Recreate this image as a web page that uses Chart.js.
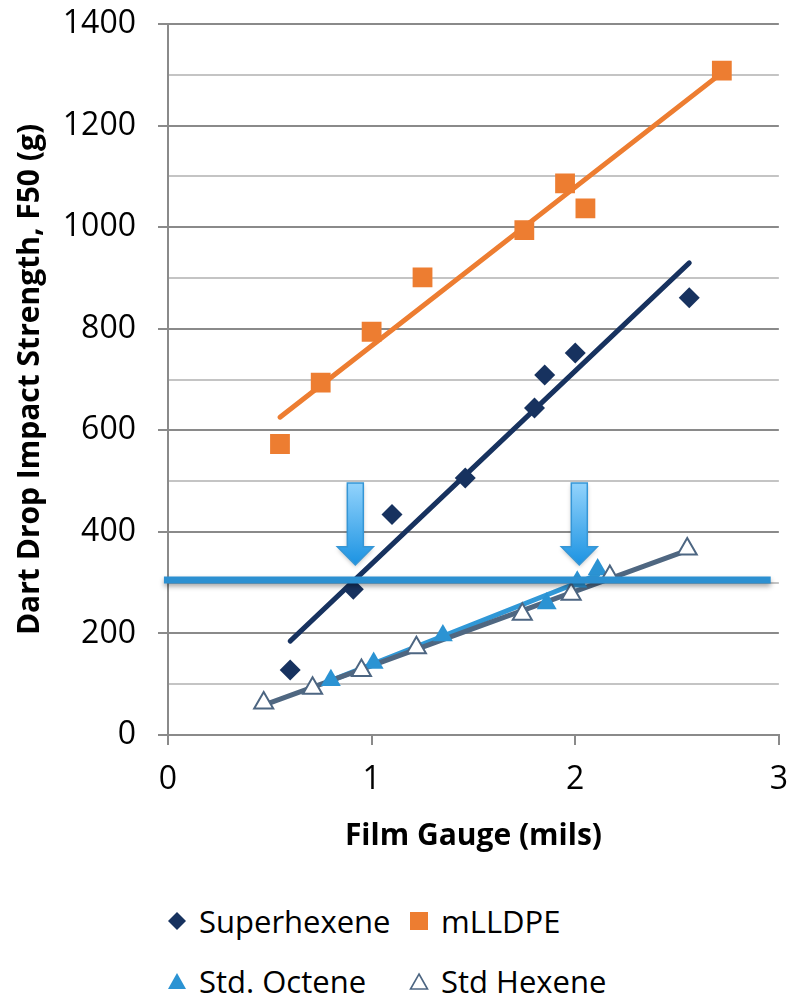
<!DOCTYPE html>
<html>
<head>
<meta charset="utf-8">
<title>Dart Drop Impact Strength vs Film Gauge</title>
<script src="https://cdn.jsdelivr.net/npm/chart.js@4.4.1/dist/chart.umd.min.js"></script>
<style>
  html, body { margin: 0; padding: 0; background: #fff; }
  #wrap { position: relative; width: 788px; height: 997px; font-family: 'Open Sans', sans-serif; }
  #chart { position: absolute; left: 0; top: 0; }
  .legend-item { position: absolute; height: 40px; display: flex; align-items: center; font-size: 31px; color: #000; white-space: nowrap; }
  .legend-item svg { margin-right: 12px; }
</style>
</head>
<body>
<div id="wrap">
  <canvas id="chart" width="788" height="870"></canvas>
  <div class="legend-item" style="left:167px; top:901px;">
    <svg width="20" height="20" viewBox="0 0 20 20"><polygon points="10,1 19,10 10,19 1,10" fill="#17325f"/></svg>Superhexene
  </div>
  <div class="legend-item" style="left:409px; top:901px;">
    <svg width="20" height="20" viewBox="0 0 20 20"><rect x="1" y="1" width="18" height="18" fill="#ed7d31"/></svg>mLLDPE
  </div>
  <div class="legend-item" style="left:167px; top:961px;">
    <svg width="20" height="20" viewBox="0 0 20 20"><polygon points="10,2 19,18 1,18" fill="#2b93d3"/></svg>Std. Octene
  </div>
  <div class="legend-item" style="left:409px; top:961px;">
    <svg width="20" height="20" viewBox="0 0 20 20"><polygon points="10,3 18.5,18 1.5,18" fill="#fff" stroke="#4d6682" stroke-width="1.6"/></svg>Std Hexene
  </div>
</div>
<script>
(function() {
  // values: film gauge (mils) and F50 (g)
  const superhexeneX = [0.60, 0.91, 1.10, 1.46, 1.80, 1.85, 2.00, 2.56];
  const superhexeneY = [128, 287, 434, 506, 644, 709, 752, 861];

  const mlldpeX = [0.55, 0.75, 1.00, 1.25, 1.75, 1.95, 2.05, 2.72];
  const mlldpeY = [573, 694, 794, 901, 994, 1086, 1037, 1308];

  const octeneX = [0.80, 1.01, 1.35, 1.86, 2.01, 2.11];
  const octeneY = [108, 142, 196, 259, 302, 326];

  const hexeneX = [0.47, 0.71, 0.95, 1.22, 1.74, 1.98, 2.17, 2.55];
  const hexeneY = [63, 92, 127, 172, 238, 277, 312, 366];

  const xTicks = [0, 1, 2, 3];
  const yLabels = [0, 200, 400, 600, 800, 1000, 1200, 1400];

  // annotations drawn on top: target level line and two arrows
  const targetLevel = 305;
  const targetSpan = [-0.02, 2.96];
  const arrowX = [0.92, 2.02];
  const arrowTop = 496;
  const arrowTip = 335;

  const NAVY = '#17325f';
  const ORANGE = '#ed7d31';
  const BLUE = '#2b93d3';
  const SLATE = '#4d6682';

  function points(xs, ys) {
    return xs.map((x, i) => ({ x, y: ys[i] }));
  }

  // least-squares trend line across the data range, like the spreadsheet trendline
  function trend(xs, ys) {
    const n = xs.length;
    const mx = xs.reduce((a, b) => a + b, 0) / n;
    const my = ys.reduce((a, b) => a + b, 0) / n;
    let sxy = 0, sxx = 0;
    xs.forEach((x, i) => { sxy += (x - mx) * (ys[i] - my); sxx += (x - mx) * (x - mx); });
    const slope = sxy / sxx;
    const icpt = my - slope * mx;
    const x0 = Math.min(...xs), x1 = Math.max(...xs);
    return [{ x: x0, y: icpt + slope * x0 }, { x: x1, y: icpt + slope * x1 }];
  }

  function trendSet(xs, ys, color, order) {
    return {
      type: 'line',
      data: trend(xs, ys),
      borderColor: color,
      borderWidth: 5,
      borderCapStyle: 'round',
      pointRadius: 0,
      fill: false,
      order
    };
  }

  const annotations = {
    id: 'annotations',
    afterDatasetsDraw(chart) {
      const ctx = chart.ctx;
      const xs = chart.scales.x;
      const ys = chart.scales.y;

      arrowX.forEach((v) => {
        const cx = xs.getPixelForValue(v);
        const top = ys.getPixelForValue(arrowTop);
        const tip = ys.getPixelForValue(arrowTip);
        const headStart = tip - 18;
        const grad = ctx.createLinearGradient(0, top, 0, tip);
        grad.addColorStop(0, '#92d3fc');
        grad.addColorStop(1, '#1c93e2');
        ctx.save();
        ctx.shadowColor = 'rgba(0,0,0,0.25)';
        ctx.shadowBlur = 4;
        ctx.shadowOffsetY = 2;
        ctx.beginPath();
        ctx.moveTo(cx - 8, top);
        ctx.lineTo(cx + 8, top);
        ctx.lineTo(cx + 8, headStart);
        ctx.lineTo(cx + 18, headStart);
        ctx.lineTo(cx, tip);
        ctx.lineTo(cx - 18, headStart);
        ctx.lineTo(cx - 8, headStart);
        ctx.closePath();
        ctx.fillStyle = grad;
        ctx.fill();
        ctx.shadowColor = 'transparent';
        ctx.strokeStyle = '#3596d6';
        ctx.lineWidth = 1.5;
        ctx.stroke();
        ctx.restore();
      });

      const y = ys.getPixelForValue(targetLevel);
      ctx.save();
      ctx.shadowColor = 'rgba(0,0,0,0.35)';
      ctx.shadowBlur = 5;
      ctx.shadowOffsetY = 3;
      ctx.beginPath();
      ctx.moveTo(xs.getPixelForValue(targetSpan[0]), y);
      ctx.lineTo(xs.getPixelForValue(targetSpan[1]), y);
      ctx.strokeStyle = '#2c90d1';
      ctx.lineWidth = 7;
      ctx.stroke();
      ctx.restore();
    }
  };

  Chart.defaults.font.family = "'Open Sans', sans-serif";
  Chart.defaults.color = '#000';

  new Chart(document.getElementById('chart'), {
    type: 'scatter',
    data: {
      datasets: [
        {
          label: 'Superhexene',
          data: points(superhexeneX, superhexeneY),
          pointStyle: 'rectRot',
          pointRadius: 10.5,
          backgroundColor: NAVY,
          borderColor: NAVY,
          borderWidth: 0,
          order: 3
        },
        {
          label: 'mLLDPE',
          data: points(mlldpeX, mlldpeY),
          pointStyle: 'rect',
          pointRadius: 14,
          backgroundColor: ORANGE,
          borderColor: ORANGE,
          borderWidth: 0,
          order: 2
        },
        {
          label: 'Std. Octene',
          data: points(octeneX, octeneY),
          pointStyle: 'triangle',
          pointRadius: 11.5,
          backgroundColor: BLUE,
          borderColor: BLUE,
          borderWidth: 0,
          order: 1
        },
        {
          label: 'Std Hexene',
          data: points(hexeneX, hexeneY),
          pointStyle: 'triangle',
          pointRadius: 11,
          backgroundColor: '#fff',
          borderColor: SLATE,
          borderWidth: 2,
          order: 0
        },
        trendSet(superhexeneX, superhexeneY, NAVY, 13),
        trendSet(mlldpeX, mlldpeY, ORANGE, 12),
        trendSet(octeneX, octeneY, '#3098d7', 11),
        trendSet(hexeneX, hexeneY, '#4f6781', 10)
      ]
    },
    options: {
      responsive: false,
      animation: false,
      layout: { autoPadding: false, padding: { top: 24, right: 9, left: 0, bottom: 0 } },
      plugins: {
        legend: { display: false },
        tooltip: { enabled: false }
      },
      scales: {
        x: {
          type: 'linear',
          min: 0,
          max: 3,
          afterBuildTicks: (s) => { s.ticks = xTicks.map((v) => ({ value: v })); },
          afterFit: (s) => { s.height = 135; },
          ticks: { font: { size: 32, lineHeight: 2.2 }, padding: 0, color: '#000' },
          grid: { drawOnChartArea: false, tickLength: 10, color: '#8a8a8a', lineWidth: 2 },
          border: { color: '#8a8a8a', width: 2 },
          title: {
            display: true,
            text: 'Film Gauge (mils)',
            font: { size: 30, weight: 'bold' },
            color: '#000',
            padding: { top: 0, bottom: 16 }
          }
        },
        y: {
          min: 0,
          max: 1400,
          afterFit: (s) => { s.width = 168; s.paddingTop = 0; s.paddingBottom = 0; },
          ticks: {
            stepSize: 100,
            autoSkip: false,
            font: { size: 32 },
            padding: 22,
            color: '#000',
            callback: (v) => (yLabels.includes(v) ? v : '')
          },
          grid: {
            tickLength: 10,
            lineWidth: 2,
            color: (c) => (c.tick && c.tick.value % 200 === 0 ? '#8a8a8a' : '#c4c4c4'),
            tickColor: (c) => (c.tick && c.tick.value % 200 === 0 ? '#8a8a8a' : 'rgba(0,0,0,0)')
          },
          border: { color: '#8a8a8a', width: 2 },
          title: {
            display: true,
            text: 'Dart Drop Impact Strength, F50 (g)',
            font: { size: 30, weight: 'bold' },
            color: '#000',
            padding: { top: 12, bottom: 0 }
          }
        }
      }
    },
    plugins: [annotations]
  });
})();
</script>
</body>
</html>
